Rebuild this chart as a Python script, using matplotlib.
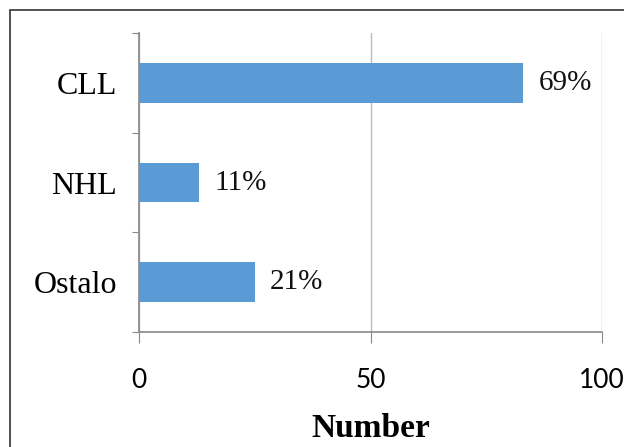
import matplotlib
matplotlib.use("Agg")
import matplotlib.pyplot as plt
from matplotlib.patches import Rectangle
from matplotlib import font_manager

categories = ["CLL", "NHL", "Ostalo"]
values = [83, 13, 25]
pct_labels = ["69%", "11%", "21%"]
x_ticks = [0, 50, 100]
x_label = "Number"

names = {f.name for f in font_manager.fontManager.ttflist}
tick_family = "Liberation Sans Narrow" if "Liberation Sans Narrow" in names else "Lato"
tick_size = 24 if tick_family == "Liberation Sans Narrow" else 19

fig = plt.figure(figsize=(6.24, 4.47), dpi=100)
ax = fig.add_axes([139/624, 1-332/447, (602-139)/624, (332-33)/447])

ypos = [2, 1, 0]
ax.barh(ypos, values, height=0.4, color="#5B9BD5", zorder=3)

serif = "Liberation Serif"
for y, v, t in zip(ypos, values, pct_labels):
    ax.annotate(t, xy=(v, y), xytext=(11, 0), textcoords="offset points",
                va="center", ha="left", fontsize=21, family=serif, color="#111")

ax.set_xlim(0, 100)
ax.set_ylim(-0.5, 2.5)
ax.set_xticks(x_ticks)
ax.set_xticklabels([str(t) for t in x_ticks], fontsize=tick_size, family=tick_family)
ax.tick_params(axis="x", length=8, color="#888", pad=18)

ax.set_yticks([-0.5, 0.5, 1.5, 2.5])
ax.set_yticklabels([])
ax.tick_params(axis="y", which="major", length=5, color="#888")
ax.set_yticks(ypos, minor=True)
ax.set_yticklabels(categories, minor=True, fontsize=23, family=serif)
ax.tick_params(axis="y", which="minor", length=0, pad=16)

ax.xaxis.grid(True, color="#bbbbbb", lw=1, zorder=0)
ax.set_axisbelow(True)
for s in ["top", "right"]:
    ax.spines[s].set_visible(False)
for s in ["left", "bottom"]:
    ax.spines[s].set_color("#888")
    ax.spines[s].set_linewidth(1.2)

ax.set_xlabel(x_label, fontsize=24, family=serif, fontweight="bold", labelpad=14)

fig.patches.append(Rectangle((10/624, -0.1), 1.2, 1.1 - 10/447, transform=fig.transFigure,
                             fill=False, ec="#333", lw=1.2, clip_on=False))

fig.savefig("out.png", dpi=100)
